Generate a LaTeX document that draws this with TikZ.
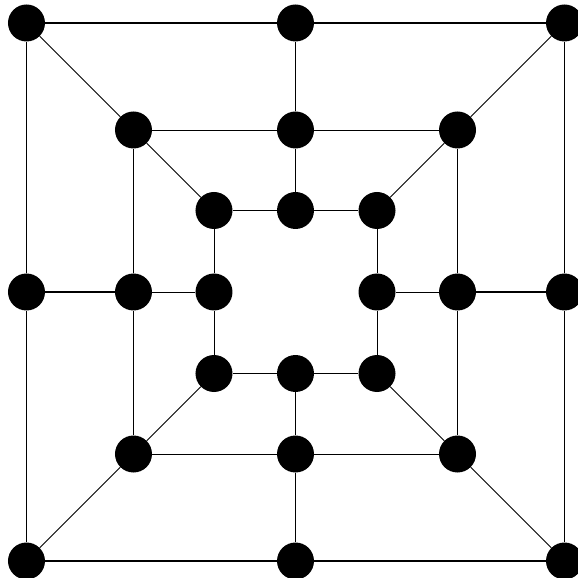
\documentclass[tikz,border=0pt]{standalone}
\usetikzlibrary{positioning}

\begin{document}
\begin{tikzpicture}[x=1pt, y=1pt,
    dot/.style={circle, fill=black, minimum size=37pt, inner sep=0pt},
    heavy/.style={line width=1.8pt},
    light/.style={line width=0.9pt}]
    % --- parameters (half sides of the three squares) ---
    \def\Out{269}
    \def\Mid{162}
    \def\Inn{81.5}

    % --- page frame ---
    \useasboundingbox (-295.5, -286) rectangle (282.5, 292);

    % --- outer square ---
    \node[dot] (oTL) at (-\Out, \Out) {};
    \node[dot] (oT)  at (0, \Out) {};
    \node[dot] (oTR) at (\Out, \Out) {};
    \node[dot] (oL)  at (-\Out, 0) {};
    \node[dot] (oR)  at (\Out, 0) {};
    \node[dot] (oBL) at (-\Out, -\Out) {};
    \node[dot] (oB)  at (0, -\Out) {};
    \node[dot] (oBR) at (\Out, -\Out) {};

    % --- middle square ---
    \node[dot] (mTL) at (-\Mid, \Mid) {};
    \node[dot] (mT)  at (0, \Mid) {};
    \node[dot] (mTR) at (\Mid, \Mid) {};
    \node[dot] (mL)  at (-\Mid, 0) {};
    \node[dot] (mR)  at (\Mid, 0) {};
    \node[dot] (mBL) at (-\Mid, -\Mid) {};
    \node[dot] (mB)  at (0, -\Mid) {};
    \node[dot] (mBR) at (\Mid, -\Mid) {};

    % --- inner square ---
    \node[dot] (iTL) at (-\Inn, \Inn) {};
    \node[dot] (iT)  at (0, \Inn) {};
    \node[dot] (iTR) at (\Inn, \Inn) {};
    \node[dot] (iL)  at (-\Inn, 0) {};
    \node[dot] (iR)  at (\Inn, 0) {};
    \node[dot] (iBL) at (-\Inn, -\Inn) {};
    \node[dot] (iB)  at (0, -\Inn) {};
    \node[dot] (iBR) at (\Inn, -\Inn) {};

    % --- outer sides ---
    \draw[heavy] (oTL) -- (oT) -- (oTR) -- (oR) -- (oBR) -- (oB) -- (oBL) -- (oL) -- (oTL);

    % --- middle and inner sides ---
    \draw[light] (mTL) -- (mT) -- (mTR) -- (mR) -- (mBR) -- (mB) -- (mBL) -- (mL) -- (mTL);
    \draw[light] (iTL) -- (iT) -- (iTR) -- (iR) -- (iBR) -- (iB) -- (iBL) -- (iL) -- (iTL);

    % --- spokes between the squares ---
    \draw[heavy] (oT) -- (mT);
    \draw[heavy] (oL) -- (mL);
    \draw[heavy] (oR) -- (mR);
    \draw[heavy] (oB) -- (mB);
    \draw[light] (mT) -- (iT);
    \draw[light] (mL) -- (iL);
    \draw[light] (mR) -- (iR);
    \draw[light] (mB) -- (iB);

    % --- diagonals ---
    \draw[light] (oTL) -- (mTL) -- (iTL);
    \draw[light] (oTR) -- (mTR) -- (iTR);
    \draw[light] (oBL) -- (mBL) -- (iBL);
    \draw[light] (oBR) -- (mBR) -- (iBR);
\end{tikzpicture}
\end{document}
